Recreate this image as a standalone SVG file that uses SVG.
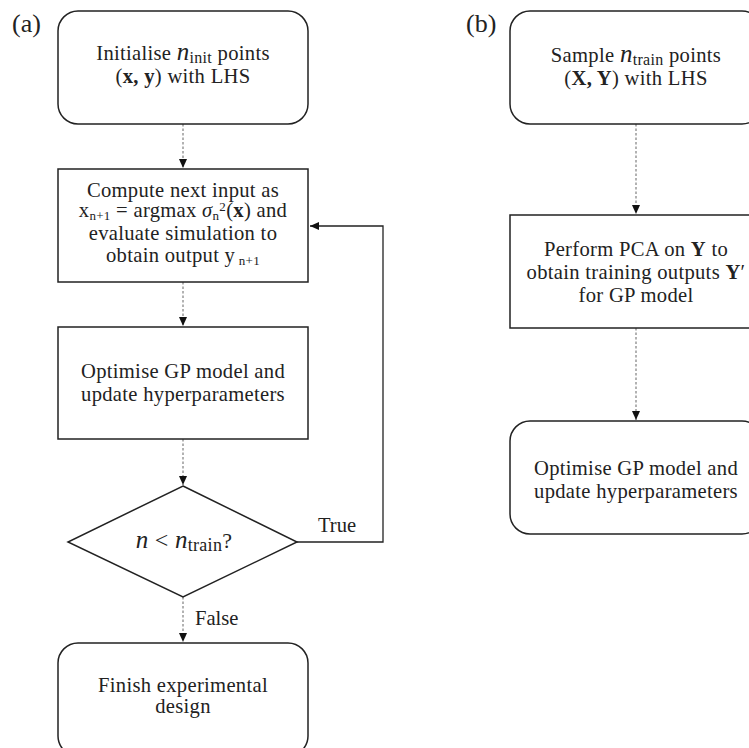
<svg xmlns="http://www.w3.org/2000/svg" width="749" height="748" viewBox="0 0 749 748">
<defs>
<style>
.box{fill:#fff;stroke:#222;stroke-width:1.5}
.t{font-family:"Liberation Serif","Times New Roman",serif;font-size:20.6px;fill:#222;text-anchor:middle;letter-spacing:0.3px}
.lab{font-family:"Liberation Serif","Times New Roman",serif;font-size:26px;fill:#222}
.lbl{font-family:"Liberation Serif","Times New Roman",serif;font-size:20.6px;fill:#222}
.m{font-style:italic;font-size:25px}
.sub{font-size:13px}
.msub{font-size:16px}
.b{font-weight:bold}
.dash{fill:none;stroke:#999;stroke-width:1.5;stroke-dasharray:2.5 2}
.solid{fill:none;stroke:#222;stroke-width:1.3}
</style>
<marker id="ah" markerUnits="userSpaceOnUse" markerWidth="10" markerHeight="10" refX="9" refY="5" orient="auto">
<path d="M0,1 L9,5 L0,9 Z" fill="#111"/>
</marker>
</defs>

<text class="lab" x="12" y="32">(a)</text>
<text class="lab" x="466" y="32">(b)</text>

<g id="connectors">
<line class="dash" x1="183" y1="124" x2="183" y2="168" marker-end="url(#ah)"/>
<line class="dash" x1="183" y1="282" x2="183" y2="326" marker-end="url(#ah)"/>
<line class="dash" x1="183" y1="439" x2="183" y2="485" marker-end="url(#ah)"/>
<line class="dash" x1="183" y1="597" x2="183" y2="642" marker-end="url(#ah)"/>
<polyline class="solid" points="297,542 383,542 383,226 310,226" marker-end="url(#ah)"/>
<line class="dash" x1="636" y1="124" x2="636" y2="214" marker-end="url(#ah)"/>
<line class="dash" x1="636" y1="328" x2="636" y2="420" marker-end="url(#ah)"/>
<text class="lbl" x="318" y="532">True</text>
<text class="lbl" x="195" y="625">False</text>
</g>

<g id="a1">
<rect class="box" x="58" y="11" width="250" height="113" rx="20"/>
<text class="t" x="183" y="60">Initialise <tspan class="m">n</tspan><tspan class="msub" dy="3">init</tspan><tspan dy="-3"> points</tspan></text>
<text class="t" x="183" y="83">(<tspan class="b">x, y</tspan>) with LHS</text>
</g>

<g id="a2">
<rect class="box" x="58" y="169" width="250" height="113"/>
<text class="t" x="183" y="197">Compute next input as</text>
<text class="t" x="183" y="217">x<tspan class="sub" dy="2.5">n+1</tspan><tspan dy="-2.5"> = argmax </tspan><tspan font-style="italic">σ</tspan><tspan class="sub" dy="2.5">n</tspan><tspan class="sub" dy="-9">2</tspan><tspan dy="6.5">(</tspan><tspan class="b">x</tspan>) and</text>
<text class="t" x="183" y="240">evaluate simulation to</text>
<text class="t" x="183" y="262">obtain output y<tspan class="sub" dy="3"> n+1</tspan></text>
</g>

<g id="a3">
<rect class="box" x="58" y="327" width="250" height="112"/>
<text class="t" x="183" y="378">Optimise GP model and</text>
<text class="t" x="183" y="401">update hyperparameters</text>
</g>

<g id="a4">
<polygon class="box" points="183,486 297,542 183,597 68,542"/>
<text class="t" x="184" y="548"><tspan class="m" font-size="28px">n</tspan><tspan font-size="24px"> &lt; </tspan><tspan class="m" font-size="28px">n</tspan><tspan font-size="18px" dy="3">train</tspan><tspan font-size="22px" dy="-3">?</tspan></text>
</g>

<g id="a5">
<rect class="box" x="58" y="643" width="250" height="113" rx="20"/>
<text class="t" x="183" y="692">Finish experimental</text>
<text class="t" x="183" y="713">design</text>
</g>

<g id="b1">
<rect class="box" x="510" y="11" width="252" height="113" rx="20"/>
<text class="t" x="636" y="62">Sample <tspan class="m">n</tspan><tspan class="msub" dy="3">train</tspan><tspan dy="-3"> points</tspan></text>
<text class="t" x="636" y="85">(<tspan class="b">X, Y</tspan>) with LHS</text>
</g>

<g id="b2">
<rect class="box" x="510" y="215" width="252" height="113"/>
<text class="t" x="636" y="256">Perform PCA on <tspan class="b">Y</tspan> to</text>
<text class="t" x="636" y="279">obtain training outputs  <tspan class="b">Y</tspan>′</text>
<text class="t" x="636" y="302">for GP model</text>
</g>

<g id="b3">
<rect class="box" x="510" y="421" width="252" height="113" rx="20"/>
<text class="t" x="636" y="475">Optimise GP model and</text>
<text class="t" x="636" y="498">update hyperparameters</text>
</g>
</svg>
